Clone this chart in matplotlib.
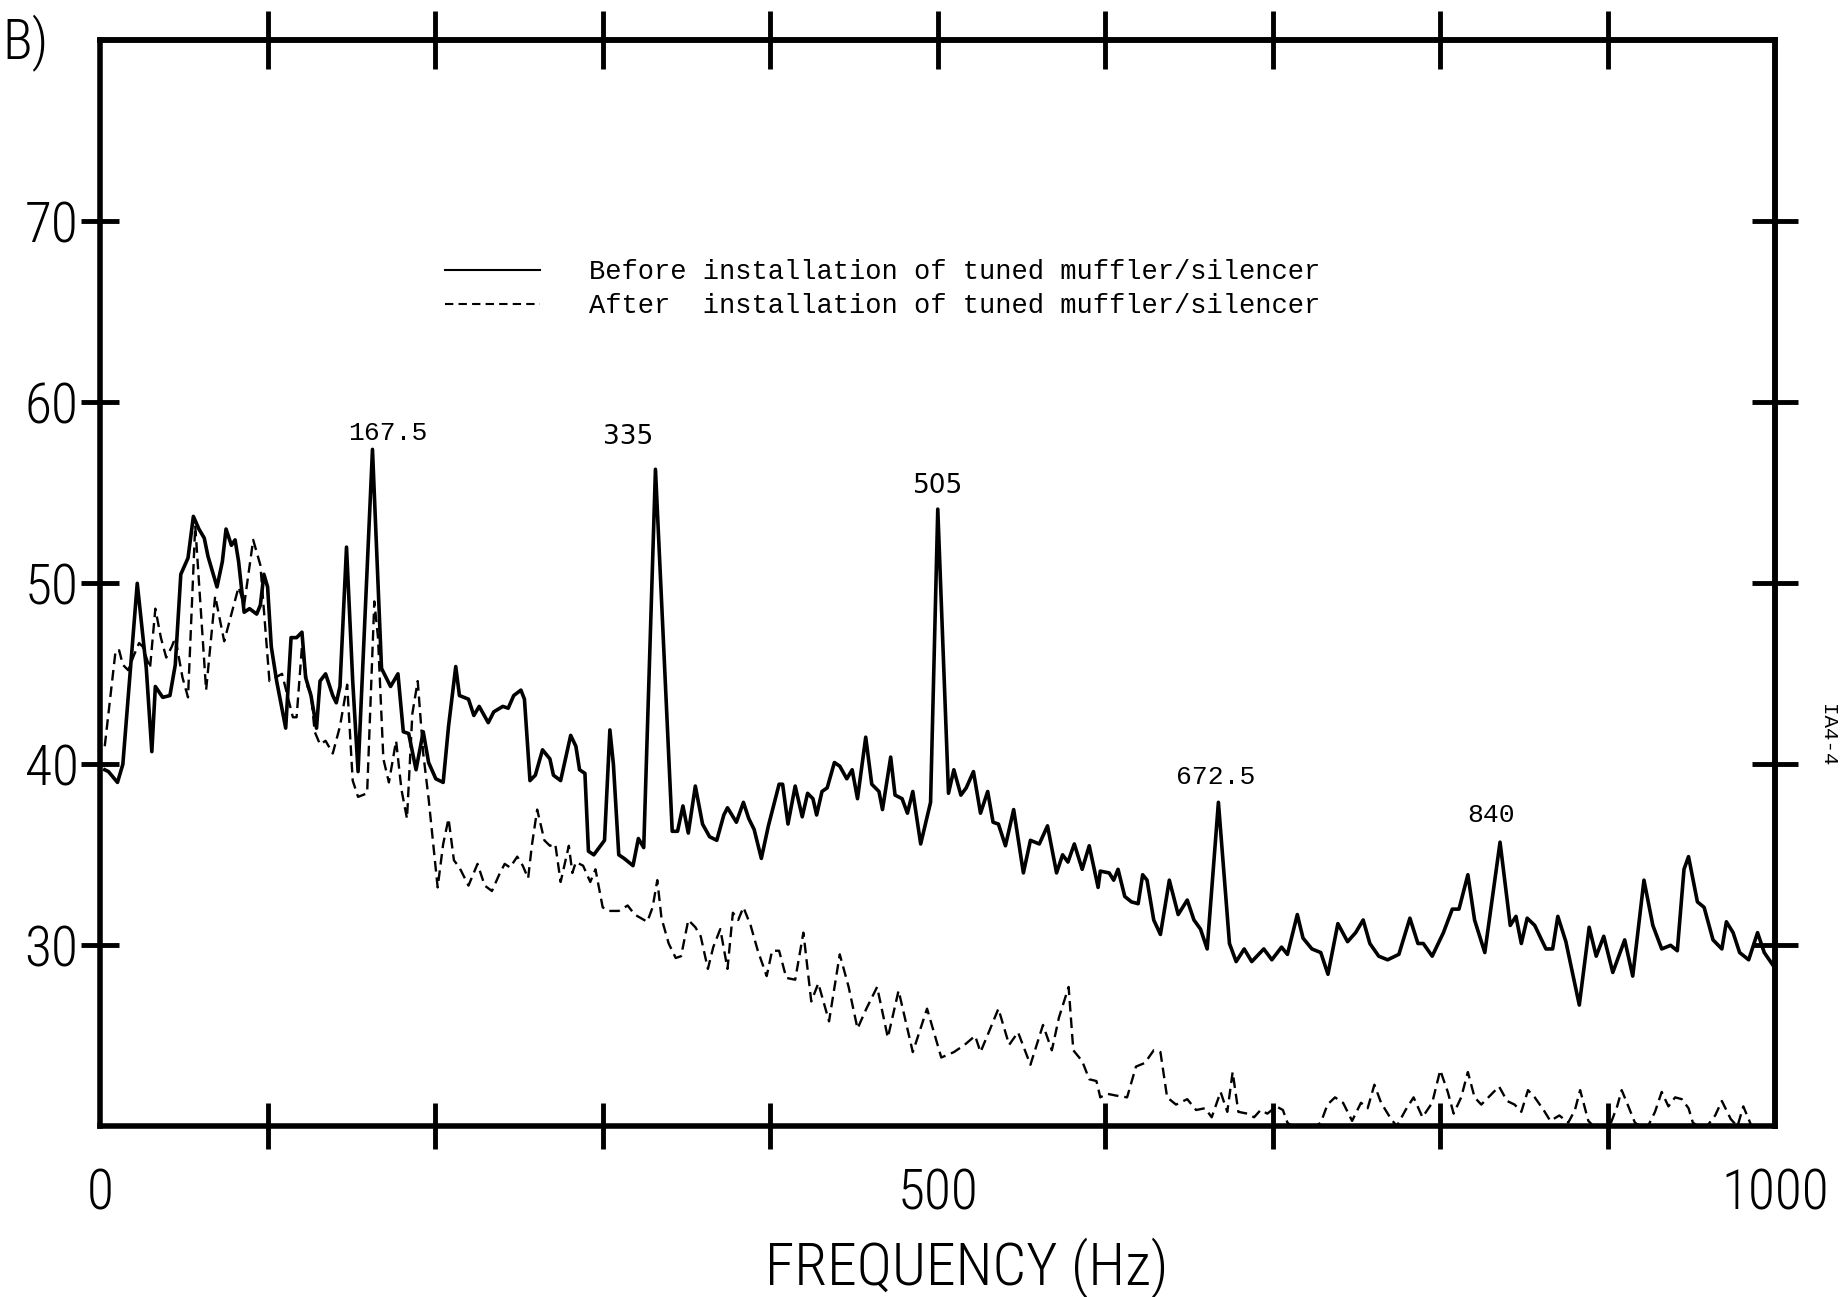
import matplotlib
matplotlib.use("Agg")
import matplotlib.pyplot as plt
from matplotlib.lines import Line2D

# sound level spectrum (frequency in Hz, level in dB)
before_hz = [2.8, 5.0, 10.4, 13.6, 22.2, 27.6, 30.9, 33.0, 37.4, 41.7, 44.9, 48.2, 52.5, 55.7, 59.0,
             62.2, 64.4, 69.8, 73.0, 75.2, 78.4, 80.6, 82.7, 86.0, 89.2, 93.5, 95.7, 97.8, 100.0,
             102.2, 105.4, 110.8, 114.0, 117.3, 120.5, 122.7, 125.9, 129.2, 131.3, 134.6, 138.9,
             141.0, 143.2, 147.1, 150.8, 154.0, 162.6, 168.0, 173.4, 177.8, 181.0, 184.2, 188.6,
             192.9, 196.1, 200.4, 204.8, 208.0, 212.3, 214.5, 219.9, 223.1, 226.3, 231.7, 235.0,
             240.4, 243.6, 246.9, 251.2, 253.3, 256.6, 259.8, 264.1, 268.5, 270.6, 274.9,
             280.9, 284.0, 286.2, 289.4, 291.5, 294.7, 301.1, 304.3, 306.4, 309.6, 312.8, 318.1,
             321.3, 324.5, 331.5, 341.5, 344.7, 347.9, 351.1, 355.3, 359.6, 363.8, 368.1, 372.3,
             374.5, 379.8, 384.0, 387.2, 390.4, 394.7, 398.9, 405.3, 407.4, 410.6, 414.9, 419.1,
             422.3, 425.5, 427.7, 430.9, 434.0, 438.3, 441.5, 445.7, 448.9, 452.1, 457.0, 460.6,
             464.9, 467.0, 471.9, 474.5, 478.7, 481.9, 485.1, 489.8, 495.7, 500.0, 506.4, 509.6,
             513.8, 517.0, 521.3, 525.5, 529.8, 533.0, 536.2, 540.4, 545.3, 551.1, 555.3, 560.6,
             565.5, 570.9, 574.5, 577.7, 581.5, 586.2, 590.4, 595.7,
             597.0, 602.3, 605.0, 607.6, 611.6, 615.6, 619.6, 622.3, 624.9, 628.9, 632.9, 638.2,
             643.5, 648.9, 652.9, 656.8, 660.8, 667.5, 674.1, 678.1, 682.9, 687.4, 694.6, 699.4,
             705.2, 708.7, 714.6, 718.0, 723.3, 728.6, 732.9, 738.8, 744.6, 749.4, 753.9, 757.9,
             763.2, 768.5, 775.2, 781.8, 786.6, 789.8, 795.1, 801.8, 807.1, 811.1, 816.4, 820.4,
             826.5, 835.6, 841.7, 845.1, 848.3, 851.8, 856.3, 863.0, 867.0, 870.1, 874.9, 882.9,
             888.8, 893.0, 897.5, 902.9, 910.0, 914.8, 921.5, 926.8, 932.1, 937.4, 941.4, 945.4,
             948.1, 953.4, 957.4, 962.7, 968.0, 970.7, 974.7, 978.6, 984.0, 989.3, 993.3, 1000.0]
before_db = [39.7, 39.6, 39.0, 40.0, 50.0, 45.3, 40.7, 44.3, 43.7, 43.8, 45.5, 50.5, 51.4, 53.7, 53.0,
             52.5, 51.5, 49.8, 51.2, 53.0, 52.1, 52.4, 51.2, 48.4, 48.6, 48.3, 48.8, 50.5, 49.8,
             46.5, 44.6, 42.0, 47.0, 47.0, 47.3, 44.8, 43.8, 42.0, 44.6, 45.0, 43.8,
             43.4, 44.3, 52.0, 44.6, 39.6, 57.4, 45.3, 44.3, 45.0, 41.8, 41.7, 39.7,
             41.8, 40.1, 39.2, 39.0, 42.1, 45.4, 43.8, 43.6, 42.7, 43.2, 42.3, 42.9,
             43.2, 43.1, 43.8, 44.1, 43.6, 39.1, 39.4, 40.8, 40.3, 39.4, 39.1,
             41.6, 41.0, 39.7, 39.5, 35.2, 35.0, 35.8, 41.9, 40.0, 35.0, 34.8, 34.4,
             35.9, 35.4, 56.3, 36.3, 36.3, 37.7, 36.2, 38.8, 36.7, 36.0, 35.8, 37.2,
             37.6, 36.8, 37.9, 37.0, 36.4, 34.8, 36.6, 38.9, 38.9, 36.7, 38.8, 37.1,
             38.4, 38.1, 37.2, 38.5, 38.7, 40.1, 39.9, 39.2, 39.7, 38.1, 41.5, 38.9,
             38.5, 37.5, 40.4, 38.3, 38.1, 37.3, 38.5, 35.6, 37.9, 54.1, 38.4, 39.7,
             38.3, 38.7, 39.6, 37.3, 38.5, 36.8, 36.7, 35.5, 37.5, 34.0, 35.8, 35.6,
             36.6, 34.0, 35.0, 34.6, 35.6, 34.2, 35.5, 33.2,
             34.1, 34.0, 33.6, 34.2, 32.7, 32.4, 32.3, 33.9, 33.6, 31.4, 30.6, 33.6,
             31.7, 32.5, 31.4, 30.9, 29.8, 37.9, 30.1, 29.1, 29.8, 29.1, 29.8, 29.2,
             29.9, 29.5, 31.7, 30.4, 29.8, 29.6, 28.4, 31.2, 30.2, 30.7, 31.4, 30.1,
             29.4, 29.2, 29.5, 31.5, 30.1, 30.1, 29.4, 30.7, 32.0, 32.0, 33.9, 31.4,
             29.6, 35.7, 31.1, 31.6, 30.1, 31.5, 31.1, 29.8, 29.8, 31.6, 30.2, 26.7,
             31.0, 29.4, 30.5, 28.5, 30.3, 28.3, 33.6, 31.1, 29.8, 30.0, 29.7, 34.2,
             34.9, 32.4, 32.1, 30.3, 29.8, 31.3, 30.7, 29.6, 29.2, 30.7, 29.6, 28.7]

after_hz = [2.8, 9.3, 11.4, 13.6, 16.8, 20.1, 23.3, 25.5, 29.8, 33.0, 36.3, 39.5, 42.8, 44.9, 49.2,
            52.5, 56.8, 63.3, 68.7, 74.1, 82.7, 86.0, 91.4, 95.7, 101.1, 108.6, 115.1, 117.3,
            120.5, 123.8, 125.9, 128.1, 131.3, 134.6, 138.9, 143.2, 147.5, 150.8, 154.0, 159.4,
            163.7, 165.9, 169.1, 172.4, 176.7, 179.9, 183.2, 186.4, 189.6, 192.9, 196.1, 201.5,
            204.8, 208.0, 211.2, 214.5, 219.9, 225.3, 229.6, 233.9, 238.2, 241.5, 244.7, 249.0,
            252.3, 255.5, 257.7, 260.9, 265.2, 268.5, 271.7, 274.9,
            279.8, 281.9, 284.0, 288.3, 292.6, 295.7, 300.0, 303.2, 309.6, 314.9, 319.1, 326.6,
            329.8, 332.6, 335.1, 339.4, 343.6, 346.8, 351.1, 355.3, 358.5, 362.8, 366.0, 370.2,
            374.5, 377.7, 380.9, 384.0, 388.3, 392.6, 397.9, 401.1, 405.3, 409.6, 414.9, 419.8,
            424.5, 428.7, 435.1, 441.5, 446.8, 452.1, 457.4, 463.8, 470.2, 476.6, 485.1, 493.6,
            502.1, 509.6, 516.0, 522.3, 525.5, 530.9, 536.2, 542.6, 547.9, 555.3, 562.8, 568.1,
            572.3, 578.1, 580.9, 586.2, 590.4, 594.7,
            597.0, 601.0, 606.3, 613.0, 618.3, 623.6, 628.9, 632.9, 636.9, 642.2, 648.9, 654.2,
            659.5, 663.5, 668.8, 672.8, 676.0, 679.4, 684.8, 688.8, 692.7, 696.7, 702.1, 706.0,
            708.7, 718.0, 728.6, 732.6, 737.1, 741.9, 747.3, 752.6, 756.6, 760.6, 764.6, 769.9,
            773.9, 779.2, 784.0, 789.3, 795.1, 799.9, 804.4, 807.9, 812.4, 816.4, 820.4, 824.4,
            829.7, 835.0, 839.8, 844.3, 848.3, 852.3, 856.3, 861.6, 865.6, 871.0, 876.3, 880.3,
            883.4, 888.3, 893.6, 900.2, 905.5, 908.2, 912.2, 916.1, 922.8, 928.1, 932.1, 936.1,
            940.1, 944.1, 948.1, 950.7, 957.4, 964.0, 968.0, 973.3, 977.3, 980.8, 985.3, 989.3]
after_db = [41.0, 46.3, 46.3, 45.5, 45.2, 46.0, 46.7, 46.5, 45.3, 48.6, 47.0, 45.9, 46.5, 47.0, 44.8,
            43.7, 53.2, 44.1, 49.3, 46.8, 49.8, 48.8, 52.4, 51.0, 44.6, 45.0, 42.6, 42.6,
            46.5, 44.3, 43.9, 41.8, 41.1, 41.3, 40.6, 42.1, 44.4, 39.1, 38.2, 38.4,
            49.0, 47.0, 40.3, 39.0, 41.3, 38.6, 37.0, 42.8, 44.6, 40.6, 38.1, 33.2,
            35.6, 37.0, 34.7, 34.3, 33.3, 34.5, 33.3, 33.0, 33.9, 34.5, 34.3, 34.9,
            34.4, 33.7, 35.5, 37.5, 35.8, 35.5, 35.6, 33.5,
            35.5, 34.0, 34.6, 34.4, 33.5, 34.2, 32.1, 31.9, 31.9, 32.2, 31.7, 31.3,
            32.1, 33.6, 31.5, 30.1, 29.3, 29.4, 31.4, 31.0, 30.5, 28.7, 29.9, 30.9,
            28.7, 31.8, 31.4, 32.1, 31.1, 29.7, 28.3, 29.7, 29.7, 28.2, 28.1, 30.7,
            26.9, 27.9, 25.8, 29.5, 27.7, 25.4, 26.5, 27.7, 24.9, 27.5, 24.1, 26.5,
            23.8, 24.1, 24.5, 25.0, 24.1, 25.3, 26.5, 24.5, 25.2, 23.4, 25.6, 24.2,
            26.0, 27.7, 24.2, 23.6, 22.6, 22.5,
            21.6, 21.8, 21.7, 21.6, 23.3, 23.5, 24.2, 24.1, 21.6, 21.2, 21.5, 20.9,
            21.0, 20.5, 21.9, 20.8, 23.0, 20.8, 20.7, 20.5, 20.9, 20.7, 21.1, 20.9,
            20.2, 19.5, 20.2, 21.2, 21.6, 21.3, 20.3, 21.3, 21.0, 22.3, 21.3, 20.5,
            20.0, 20.9, 21.6, 20.5, 21.3, 23.1, 21.9, 20.7, 21.6, 23.0, 21.6, 21.2,
            21.7, 22.2, 21.4, 21.2, 20.8, 22.0, 21.6, 20.9, 20.3, 20.6, 20.2, 20.9,
            22.0, 20.3, 19.8, 19.8, 21.1, 22.0, 21.1, 20.2, 19.8, 20.8, 21.9, 21.1,
            21.6, 21.5, 21.0, 20.2, 19.8, 20.6, 21.4, 20.4, 20.0, 21.1, 20.1, 19.6]

# labelled peaks: text, x, y of the label
peak_text = ["167.5", "335", "505", "672.5", "840"]
peak_x = [172, 315, 500, 666, 830]
peak_y = [58.3, 58.1, 55.4, 39.3, 37.2]
peak_mono = [True, False, False, True, True]

legend_labels = ["Before installation of tuned muffler/silencer",
                 "After  installation of tuned muffler/silencer"]

narrow = ["Roboto Condensed", "DejaVu Sans"]
mono = ["Liberation Mono", "DejaVu Sans Mono"]
big = dict(family=narrow, fontsize=40, fontstretch="condensed", fontweight="light")

fig = plt.figure(figsize=(18.46, 12.97), dpi=100)
ax = fig.add_axes([0.0542, 0.1316, 0.9076, 0.8373])

ax.plot(before_hz, before_db, color="black", lw=2.6, solid_joinstyle="round")
ax.plot(after_hz, after_db, color="black", lw=1.7, dashes=(4.5, 2.5))

ax.set_xlim(0, 1000)
ax.set_ylim(20, 80)

for s in ax.spines.values():
    s.set_linewidth(4)

# bottom: labels at 0/500/1000, crossing marks every 100 Hz
ax.set_xticks([0, 500, 1000])
ax.set_xticklabels(["0", "500", "1000"], **big)
ax.tick_params(axis="x", which="major", length=0, pad=30)
ax.set_xticks(range(100, 1000, 100), minor=True)
ax.tick_params(axis="x", which="minor", direction="inout", length=33, width=3.5)

ax.set_yticks([30, 40, 50, 60, 70])
ax.set_yticklabels(["30", "40", "50", "60", "70"], **big)
ax.tick_params(axis="y", which="major", direction="inout", length=27, width=3.5, pad=2)

top = ax.secondary_xaxis("top")
top.set_xticks(range(100, 1000, 100))
top.tick_params(direction="inout", length=42, width=3.5, labeltop=False)
top.spines["top"].set_linewidth(4)

right = ax.secondary_yaxis("right")
right.set_yticks([30, 40, 50, 60, 70])
right.tick_params(direction="inout", length=33, width=3.5, labelright=False)
right.spines["right"].set_linewidth(4)

fig.text(967 / 1846, 1 - 1268 / 1297, "FREQUENCY (Hz)", family=narrow, fontsize=43,
         fontstretch="condensed", fontweight="light", ha="center", va="center")
fig.text(2 / 1846, 1 - 43 / 1297, "B)", ha="left", va="center", **big)
fig.text(1828 / 1846, 1 - 735 / 1297, "IA4-4", family=mono, fontsize=15, rotation=-90,
         ha="center", va="center")

for t, x, y, m in zip(peak_text, peak_x, peak_y, peak_mono):
    ax.text(x, y, t, family=mono if m else ["DejaVu Sans"], fontsize=19,
            ha="center", va="center")

handles = [Line2D([], [], color="black", lw=1.5),
           Line2D([], [], color="black", lw=1.5, dashes=(4, 2.5))]
ax.legend(handles, legend_labels, loc="upper left",
          bbox_to_anchor=(445 / 1846, 1 - 259 / 1297), bbox_transform=fig.transFigure,
          frameon=False, prop={"family": mono, "size": 19.5}, borderpad=0,
          borderaxespad=0, handlelength=3.5, handletextpad=1.8, labelspacing=0.3)

fig.savefig("out.png", dpi=100)
